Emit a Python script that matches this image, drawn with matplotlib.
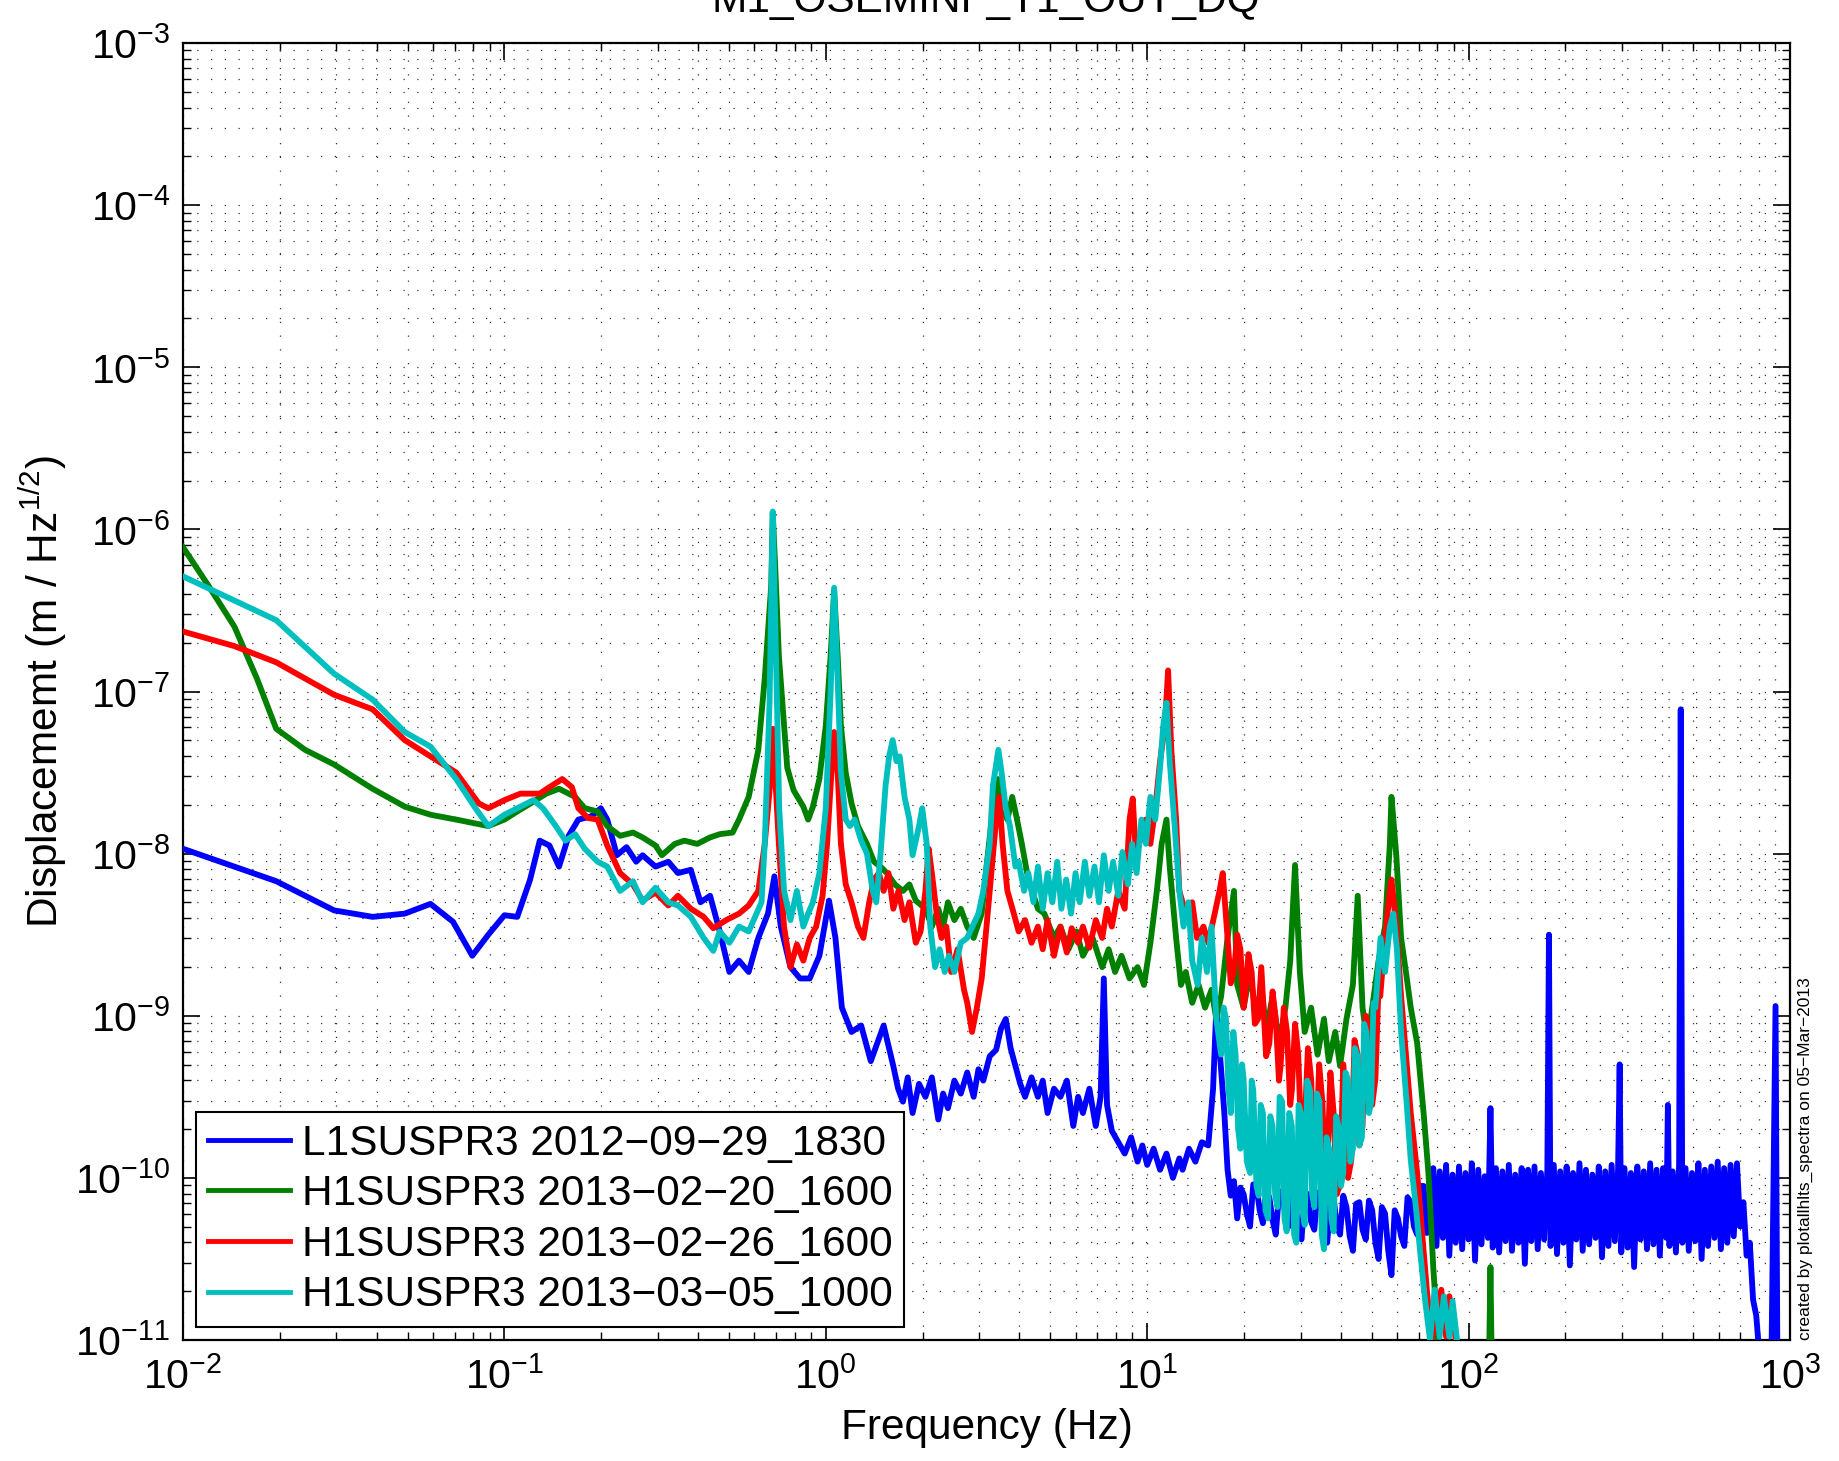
import numpy as np
import matplotlib
matplotlib.use('Agg')
import matplotlib.pyplot as plt

plt.rcParams['font.family'] = ['Liberation Sans', 'DejaVu Sans']
plt.rcParams['mathtext.fontset'] = 'custom'
plt.rcParams['mathtext.rm'] = 'Liberation Sans'
plt.rcParams['mathtext.it'] = 'Liberation Sans:italic'
plt.rcParams['mathtext.bf'] = 'Liberation Sans:bold'
plt.rcParams['mathtext.default'] = 'regular'

title = 'M1_OSEMINF_T1_OUT_DQ'
xlabel = 'Frequency (Hz)'
ylabel = 'Displacememt (m / Hz$^{1/2}$)'
footnote = 'created by plotallhlts_spectra on 05\u2212Mar\u22122013'
series_labels = ['L1SUSPR3 2012\u221209\u221229_1830',
                 'H1SUSPR3 2013\u221202\u221220_1600',
                 'H1SUSPR3 2013\u221202\u221226_1600',
                 'H1SUSPR3 2013\u221203\u221205_1000']
series_colors = ['#0000ff', '#008000', '#ff0000', '#00bfbf']
x_tick_exps = [-2, -1, 0, 1, 2, 3]
y_tick_exps = [-11, -10, -9, -8, -7, -6, -5, -4, -3]

# (log10 frequency [Hz], log10 amplitude [m/rtHz])
l1_log = [
    (-2.00,-7.97),(-1.71,-8.17),(-1.53,-8.35),(-1.41,-8.39),(-1.31,-8.37),(-1.23,-8.31),(-1.16,-8.42),
    (-1.10,-8.63),(-1.05,-8.50),(-1.00,-8.38),(-0.96,-8.39),(-0.92,-8.16),(-0.89,-7.92),(-0.86,-7.95),
    (-0.83,-8.08),(-0.80,-7.89),(-0.77,-7.79),(-0.73,-7.77),(-0.70,-7.72),(-0.68,-7.79),(-0.65,-8.01),
    (-0.62,-7.96),(-0.59,-8.05),(-0.57,-8.01),(-0.53,-8.08),(-0.49,-8.05),(-0.46,-8.12),(-0.42,-8.10),
    (-0.39,-8.30),(-0.36,-8.26),(-0.33,-8.48),(-0.30,-8.73),(-0.27,-8.66),(-0.24,-8.73),(-0.21,-8.52),
    (-0.18,-8.37),(-0.16,-8.14),(-0.14,-8.45),(-0.11,-8.70),(-0.08,-8.77),(-0.05,-8.77),(-0.02,-8.63),
    (0.01,-8.29),(0.03,-8.52),(0.05,-8.95),(0.08,-9.10),(0.11,-9.06),(0.14,-9.28),(0.16,-9.17),
    (0.18,-9.06),(0.21,-9.31),(0.225,-9.45),(0.24,-9.53),(0.255,-9.38),(0.27,-9.60),(0.29,-9.42),
    (0.31,-9.50),(0.33,-9.38),(0.35,-9.64),(0.365,-9.48),(0.38,-9.57),(0.40,-9.40),(0.42,-9.48),
    (0.44,-9.35),(0.46,-9.50),(0.475,-9.33),(0.49,-9.40),(0.51,-9.25),(0.53,-9.21),(0.545,-9.08),
    (0.56,-9.02),(0.575,-9.20),(0.59,-9.31),(0.605,-9.42),(0.62,-9.50),(0.64,-9.38),(0.66,-9.50),
    (0.675,-9.40),(0.69,-9.60),(0.71,-9.45),(0.73,-9.50),(0.75,-9.40),(0.77,-9.68),(0.785,-9.50),
    (0.80,-9.60),(0.82,-9.45),(0.84,-9.68),(0.855,-9.50),(0.865,-8.77),(0.875,-9.55),(0.89,-9.71),
    (0.91,-9.78),(0.93,-9.85),(0.95,-9.75),(0.97,-9.90),(0.985,-9.80),(1.00,-9.92),(1.02,-9.82),
    (1.04,-9.95),(1.06,-9.85),(1.08,-10.00),(1.10,-9.88),(1.11,-9.95),(1.13,-9.82),(1.15,-9.90),
    (1.17,-9.78),(1.19,-9.80),(1.205,-9.45),(1.215,-8.95),(1.225,-9.20),(1.24,-9.60),(1.25,-9.95),
    (1.26,-10.11),(1.27,-10.02),(1.28,-10.25),(1.29,-10.06),(1.30,-10.10),(1.31,-10.22),(1.32,-10.30),
    (1.33,-10.04),(1.34,-10.05),(1.35,-10.20),(1.36,-10.28),(1.37,-10.08),(1.38,-10.12),(1.39,-10.26),
    (1.40,-10.35),(1.41,-10.10),(1.42,-10.08),(1.43,-10.24),(1.44,-10.30),(1.45,-10.06),(1.46,-10.15),
    (1.47,-10.30),(1.48,-10.38),(1.49,-10.12),(1.50,-10.10),(1.51,-10.27),(1.52,-10.32),(1.53,-10.09),
    (1.54,-10.14),(1.55,-10.33),(1.56,-10.40),(1.57,-10.15),(1.58,-10.12),(1.59,-10.30),(1.60,-10.35),
    (1.61,-10.11),(1.62,-10.18),(1.63,-10.36),(1.64,-10.45),(1.65,-10.16),(1.66,-10.15),(1.67,-10.32),
    (1.68,-10.38),(1.69,-10.14),(1.70,-10.20),(1.71,-10.40),(1.72,-10.50),(1.73,-10.18),(1.74,-10.22),
    (1.75,-10.45),(1.76,-10.60),(1.77,-10.20),(1.78,-10.25),(1.79,-10.36),(1.80,-10.42),(1.81,-10.12),
    (1.82,-10.15),(1.83,-10.30),(1.84,-10.35),(1.85,-10.05),(1.86,-10.05),(1.87,-10.34),(1.88,-10.30),
    (1.89,-9.94),(1.90,-10.42),(1.91,-9.96),(1.92,-10.37),(1.93,-9.92),(1.94,-10.48),(1.95,-9.98),
    (1.96,-10.40),(1.97,-9.93),(1.98,-10.44),(1.99,-9.97),(2.00,-10.38),(2.01,-9.91),(2.02,-10.51),
    (2.03,-9.95),(2.04,-10.41),(2.05,-9.99),(2.06,-10.37),(2.068,-9.57),(2.075,-10.43),(2.085,-9.94),
    (2.095,-10.46),(2.105,-9.96),(2.115,-10.39),(2.125,-9.92),(2.135,-10.45),(2.145,-9.98),(2.155,-10.40),
    (2.165,-9.94),(2.175,-10.53),(2.185,-9.95),(2.195,-10.39),(2.205,-9.93),(2.215,-10.44),(2.225,-9.97),
    (2.235,-10.38),(2.245,-9.95),(2.25,-8.50),(2.255,-10.42),(2.265,-9.92),(2.275,-10.47),(2.285,-9.96),
    (2.295,-10.40),(2.305,-9.93),(2.315,-10.54),(2.325,-9.97),(2.335,-10.38),(2.345,-9.91),(2.355,-10.45),
    (2.365,-9.95),(2.375,-10.41),(2.385,-9.98),(2.395,-10.37),(2.405,-9.93),(2.415,-10.49),(2.425,-9.96),
    (2.435,-10.42),(2.445,-9.92),(2.455,-10.39),(2.465,-9.95),(2.47,-9.30),(2.475,-10.46),(2.485,-9.94),
    (2.495,-10.43),(2.505,-9.97),(2.515,-10.55),(2.525,-9.93),(2.535,-10.38),(2.545,-9.96),(2.555,-10.44),
    (2.565,-9.91),(2.575,-10.41),(2.585,-9.95),(2.595,-10.48),(2.605,-9.94),(2.615,-10.37),(2.62,-9.55),
    (2.625,-10.42),(2.635,-9.96),(2.645,-10.46),(2.655,-9.92),(2.66,-7.11),(2.665,-10.40),(2.675,-9.94),
    (2.685,-10.45),(2.695,-9.97),(2.705,-10.39),(2.715,-9.91),(2.725,-10.50),(2.735,-9.95),(2.745,-10.42),
    (2.755,-9.93),(2.765,-10.37),(2.775,-9.90),(2.785,-10.44),(2.795,-9.94),(2.805,-10.40),(2.815,-9.92),
    (2.825,-10.36),(2.835,-9.91),(2.845,-10.30),(2.855,-10.15),(2.865,-10.48),(2.875,-10.40),(2.885,-10.75),
    (2.895,-10.85),(2.905,-11.10),(2.92,-11.30),(2.94,-11.50),(2.955,-8.94),(2.962,-11.60),
]

h1_0220_log = [
    (-2.00,-6.11),(-1.92,-6.35),(-1.84,-6.60),(-1.77,-6.92),(-1.71,-7.23),(-1.62,-7.36),(-1.53,-7.45),
    (-1.41,-7.60),(-1.31,-7.71),(-1.23,-7.76),(-1.15,-7.79),(-1.05,-7.83),(-1.00,-7.79),(-0.96,-7.74),
    (-0.91,-7.68),(-0.87,-7.63),(-0.83,-7.60),(-0.78,-7.65),(-0.75,-7.72),(-0.71,-7.74),(-0.68,-7.83),
    (-0.64,-7.89),(-0.60,-7.87),(-0.57,-7.90),(-0.53,-7.95),(-0.51,-8.01),(-0.47,-7.94),(-0.44,-7.92),
    (-0.40,-7.94),(-0.36,-7.90),(-0.33,-7.88),(-0.29,-7.87),(-0.27,-7.79),(-0.24,-7.65),(-0.21,-7.36),
    (-0.19,-6.92),(-0.17,-6.35),(-0.165,-5.90),(-0.158,-6.20),(-0.146,-6.78),(-0.13,-7.21),(-0.12,-7.47),
    (-0.10,-7.61),(-0.07,-7.71),(-0.055,-7.79),(-0.04,-7.71),(-0.02,-7.54),(0.00,-7.21),(0.015,-6.78),
    (0.026,-6.38),(0.037,-6.78),(0.047,-7.21),(0.062,-7.50),(0.08,-7.69),(0.10,-7.83),(0.128,-7.94),
    (0.15,-8.05),(0.17,-8.08),(0.19,-8.12),(0.215,-8.19),(0.24,-8.23),(0.26,-8.19),(0.28,-8.29),
    (0.31,-8.34),(0.33,-8.45),(0.35,-8.34),(0.365,-8.45),(0.38,-8.30),(0.40,-8.41),(0.42,-8.34),
    (0.44,-8.45),(0.46,-8.52),(0.485,-8.37),(0.50,-8.08),(0.52,-7.72),(0.535,-7.54),(0.55,-7.72),
    (0.565,-7.79),(0.58,-7.65),(0.595,-7.79),(0.61,-7.94),(0.63,-8.16),(0.66,-8.34),(0.68,-8.37),
    (0.71,-8.52),(0.73,-8.45),(0.755,-8.59),(0.78,-8.48),(0.80,-8.63),(0.83,-8.52),(0.86,-8.70),
    (0.88,-8.59),(0.90,-8.73),(0.92,-8.63),(0.945,-8.77),(0.97,-8.70),(0.99,-8.81),(1.01,-8.55),
    (1.03,-8.23),(1.045,-7.94),(1.06,-7.79),(1.07,-8.08),(1.09,-8.52),(1.105,-8.81),(1.12,-8.73),
    (1.14,-8.92),(1.16,-8.81),(1.18,-8.95),(1.20,-8.84),(1.215,-9.02),(1.23,-8.88),(1.25,-8.52),
    (1.27,-8.23),(1.28,-8.81),(1.30,-8.95),(1.32,-8.73),(1.34,-9.02),(1.355,-8.81),(1.37,-9.10),
    (1.39,-8.88),(1.41,-9.17),(1.43,-8.95),(1.445,-8.66),(1.46,-8.07),(1.475,-8.73),(1.49,-9.10),
    (1.51,-8.95),(1.53,-9.24),(1.55,-9.02),(1.565,-9.28),(1.585,-9.10),(1.60,-9.31),(1.62,-9.02),
    (1.64,-8.81),(1.655,-8.26),(1.67,-8.95),(1.685,-9.17),(1.705,-8.88),(1.72,-8.66),(1.74,-8.45),
    (1.755,-7.94),(1.76,-7.65),(1.775,-8.01),(1.79,-8.52),(1.805,-8.73),(1.82,-8.95),(1.84,-9.17),
    (1.86,-9.60),(1.875,-9.97),(1.89,-10.55),(1.905,-11.00),(1.92,-11.40),(1.95,-11.60),(2.06,-11.60),
    (2.068,-10.55),(2.075,-11.60),
]

h1_0226_log = [
    (-2.00,-6.63),(-1.84,-6.72),(-1.71,-6.82),(-1.62,-6.92),(-1.53,-7.02),(-1.41,-7.11),(-1.31,-7.30),
    (-1.23,-7.40),(-1.15,-7.50),(-1.08,-7.69),(-1.05,-7.72),(-1.00,-7.67),(-0.95,-7.63),(-0.89,-7.63),
    (-0.86,-7.59),(-0.82,-7.54),(-0.79,-7.59),(-0.77,-7.72),(-0.74,-7.78),(-0.71,-7.79),(-0.68,-7.95),
    (-0.64,-8.12),(-0.60,-8.19),(-0.57,-8.29),(-0.53,-8.24),(-0.49,-8.32),(-0.46,-8.26),(-0.42,-8.34),
    (-0.38,-8.39),(-0.35,-8.46),(-0.31,-8.41),(-0.27,-8.37),(-0.24,-8.32),(-0.21,-8.23),(-0.19,-7.94),
    (-0.17,-7.50),(-0.165,-7.23),(-0.16,-7.43),(-0.146,-7.94),(-0.13,-8.45),(-0.11,-8.70),(-0.09,-8.56),
    (-0.07,-8.66),(-0.05,-8.52),(-0.03,-8.45),(-0.01,-8.26),(0.004,-7.94),(0.015,-7.58),(0.026,-7.25),
    (0.037,-7.50),(0.047,-7.94),(0.062,-8.19),(0.08,-8.30),(0.10,-8.45),(0.117,-8.52),(0.135,-8.30),
    (0.15,-8.16),(0.165,-8.12),(0.18,-8.23),(0.195,-8.12),(0.21,-8.34),(0.226,-8.23),(0.245,-8.41),
    (0.26,-8.30),(0.28,-8.55),(0.295,-8.48),(0.31,-8.23),(0.32,-7.97),(0.33,-8.12),(0.345,-8.37),
    (0.36,-8.52),(0.375,-8.45),(0.39,-8.73),(0.41,-8.59),(0.43,-8.84),(0.44,-8.92),(0.455,-9.10),
    (0.47,-8.95),(0.485,-8.77),(0.50,-8.45),(0.515,-8.12),(0.53,-7.79),(0.54,-7.65),(0.55,-7.94),
    (0.565,-8.23),(0.585,-8.37),(0.60,-8.48),(0.62,-8.41),(0.64,-8.55),(0.66,-8.45),(0.675,-8.59),
    (0.69,-8.41),(0.71,-8.63),(0.73,-8.45),(0.75,-8.61),(0.765,-8.46),(0.785,-8.55),(0.80,-8.45),
    (0.82,-8.58),(0.84,-8.41),(0.86,-8.52),(0.875,-8.34),(0.89,-8.45),(0.91,-8.23),(0.93,-8.34),
    (0.945,-7.79),(0.955,-7.66),(0.965,-8.01),(0.98,-7.90),(0.995,-7.79),(1.01,-7.94),(1.025,-7.72),
    (1.04,-7.43),(1.055,-7.21),(1.065,-6.87),(1.075,-7.36),(1.09,-7.79),(1.10,-8.23),(1.12,-8.37),
    (1.14,-8.30),(1.155,-8.52),(1.175,-8.45),(1.19,-8.55),(1.21,-8.37),(1.225,-8.23),(1.235,-8.12),
    (1.25,-8.52),(1.26,-8.80),(1.27,-8.73),(1.28,-8.50),(1.29,-8.59),(1.30,-8.95),(1.305,-8.88),
    (1.315,-8.62),(1.325,-8.73),(1.335,-9.05),(1.345,-9.02),(1.355,-8.70),(1.36,-8.88),(1.37,-9.25),
    (1.38,-9.17),(1.39,-8.85),(1.40,-9.02),(1.41,-9.40),(1.415,-9.31),(1.425,-8.95),(1.435,-9.10),
    (1.445,-9.55),(1.45,-9.46),(1.46,-9.05),(1.47,-9.24),(1.48,-9.80),(1.49,-9.68),(1.50,-9.20),
    (1.51,-9.39),(1.52,-9.95),(1.525,-9.86),(1.535,-9.30),(1.545,-9.53),(1.555,-10.05),(1.56,-9.97),
    (1.57,-9.35),(1.58,-9.60),(1.59,-10.10),(1.60,-10.04),(1.61,-9.30),(1.615,-9.46),(1.625,-10.00),
    (1.635,-9.89),(1.645,-9.15),(1.655,-9.24),(1.66,-9.80),(1.67,-9.68),(1.68,-9.00),(1.69,-9.10),
    (1.70,-9.55),(1.71,-9.39),(1.72,-8.80),(1.725,-8.88),(1.74,-8.52),(1.755,-8.23),(1.76,-8.16),
    (1.775,-8.45),(1.79,-8.88),(1.805,-9.24),(1.82,-9.60),(1.84,-9.97),(1.855,-10.33),(1.87,-10.69),
    (1.885,-11.00),(1.90,-10.83),(1.915,-10.69),(1.93,-10.98),(1.94,-10.73),(1.955,-10.91),(1.965,-11.10),
]

h1_0305_log = [
    (-2.00,-6.29),(-1.71,-6.56),(-1.53,-6.89),(-1.41,-7.05),(-1.31,-7.25),(-1.23,-7.34),(-1.15,-7.54),
    (-1.09,-7.72),(-1.05,-7.83),(-1.00,-7.76),(-0.95,-7.71),(-0.91,-7.67),(-0.88,-7.72),(-0.84,-7.83),
    (-0.81,-7.92),(-0.78,-7.88),(-0.75,-7.97),(-0.71,-8.05),(-0.68,-8.08),(-0.64,-8.23),(-0.60,-8.17),
    (-0.57,-8.30),(-0.53,-8.21),(-0.49,-8.30),(-0.46,-8.32),(-0.42,-8.39),(-0.38,-8.52),(-0.35,-8.60),
    (-0.33,-8.48),(-0.30,-8.55),(-0.27,-8.45),(-0.24,-8.48),(-0.22,-8.39),(-0.20,-8.30),(-0.19,-7.94),
    (-0.175,-7.07),(-0.165,-5.89),(-0.155,-6.78),(-0.145,-7.72),(-0.13,-8.23),(-0.11,-8.41),(-0.09,-8.23),
    (-0.07,-8.45),(-0.055,-8.37),(-0.04,-8.30),(-0.02,-8.12),(0.00,-7.72),(0.015,-7.00),(0.026,-6.36),
    (0.037,-6.93),(0.047,-7.50),(0.062,-7.79),(0.075,-7.83),(0.09,-7.79),(0.11,-7.92),(0.128,-8.00),
    (0.146,-8.23),(0.157,-8.30),(0.17,-8.01),(0.186,-7.58),(0.197,-7.40),(0.208,-7.30),(0.22,-7.43),
    (0.23,-7.40),(0.245,-7.65),(0.26,-7.79),(0.27,-8.01),(0.29,-7.83),(0.30,-7.72),(0.314,-7.94),
    (0.325,-8.45),(0.34,-8.70),(0.354,-8.59),(0.37,-8.73),(0.383,-8.63),(0.40,-8.73),(0.42,-8.55),
    (0.44,-8.52),(0.456,-8.45),(0.475,-8.37),(0.49,-8.23),(0.51,-7.94),(0.52,-7.58),(0.537,-7.36),
    (0.547,-7.50),(0.56,-7.72),(0.573,-7.83),(0.59,-8.08),(0.60,-8.05),(0.617,-8.23),(0.63,-8.12),
    (0.646,-8.30),(0.66,-8.08),(0.675,-8.34),(0.69,-8.12),(0.705,-8.30),(0.72,-8.05),(0.733,-8.34),
    (0.748,-8.16),(0.763,-8.37),(0.777,-8.12),(0.79,-8.30),(0.806,-8.05),(0.82,-8.26),(0.836,-8.08),
    (0.85,-8.30),(0.865,-8.01),(0.88,-8.23),(0.894,-8.05),(0.91,-8.26),(0.923,-7.99),(0.94,-8.19),
    (0.953,-7.94),(0.967,-8.12),(0.982,-7.79),(0.996,-7.94),(1.01,-7.65),(1.025,-7.79),(1.04,-7.47),
    (1.05,-7.21),(1.06,-7.07),(1.07,-7.43),(1.084,-7.79),(1.10,-8.23),(1.113,-8.45),(1.128,-8.30),
    (1.14,-8.66),(1.157,-8.81),(1.17,-8.52),(1.186,-8.73),(1.20,-8.45),(1.215,-9.02),(1.23,-9.24),
    (1.238,-8.95),(1.245,-9.02),(1.253,-9.45),(1.26,-9.60),(1.268,-9.10),(1.275,-9.24),(1.283,-9.70),
    (1.29,-9.82),(1.295,-9.30),(1.30,-9.39),(1.31,-9.90),(1.32,-9.97),(1.325,-9.40),(1.33,-9.46),
    (1.34,-10.05),(1.347,-10.11),(1.353,-9.55),(1.36,-9.60),(1.368,-10.20),(1.376,-10.25),(1.383,-9.62),
    (1.39,-9.68),(1.398,-10.10),(1.405,-10.18),(1.412,-9.50),(1.42,-9.53),(1.427,-10.25),(1.434,-10.33),
    (1.442,-9.60),(1.45,-9.68),(1.457,-10.35),(1.464,-10.40),(1.471,-9.55),(1.478,-9.60),(1.484,-10.20),
    (1.49,-10.29),(1.498,-9.40),(1.507,-9.46),(1.513,-10.10),(1.52,-10.18),(1.528,-9.48),(1.536,-9.53),
    (1.543,-10.35),(1.55,-10.44),(1.558,-9.75),(1.566,-9.82),(1.573,-10.25),(1.58,-10.33),(1.588,-9.62),
    (1.595,-9.68),(1.603,-10.05),(1.61,-9.97),(1.617,-9.35),(1.624,-9.39),(1.632,-9.90),(1.64,-9.82),
    (1.646,-9.20),(1.653,-9.24),(1.66,-9.80),(1.668,-9.75),(1.675,-9.05),(1.682,-9.10),(1.69,-9.60),
    (1.697,-9.53),(1.704,-8.92),(1.71,-8.95),(1.726,-8.52),(1.74,-8.73),(1.755,-8.45),(1.766,-8.37),
    (1.777,-8.59),(1.79,-9.10),(1.807,-9.53),(1.82,-9.89),(1.836,-10.18),(1.85,-10.47),(1.865,-10.76),
    (1.88,-11.00),(1.894,-10.69),(1.91,-10.98),(1.923,-10.73),(1.94,-10.98),(1.95,-10.76),(1.967,-11.05),
]

all_series = [l1_log, h1_0220_log, h1_0226_log, h1_0305_log]

fig = plt.figure(figsize=(18.39, 14.61), dpi=100)
ax = fig.add_axes([183/1839, 1 - 1340/1461, (1790-183)/1839, (1340-43)/1461])

for data, color, lab in zip(all_series, series_colors, series_labels):
    arr = np.array(data)
    ax.plot(10**arr[:, 0], 10**arr[:, 1], color=color, lw=4.2, label=lab,
            solid_joinstyle='round', zorder=3)

ax.set_xscale('log')
ax.set_yscale('log')
ax.set_xlim(1e-2, 1e3)
ax.set_ylim(1e-11, 1e-3)
ax.set_xticks([10.0**e for e in x_tick_exps])
ax.set_xticklabels(['$10^{%d}$' % e for e in x_tick_exps])
ax.set_yticks([10.0**e for e in y_tick_exps])
ax.set_yticklabels(['$10^{%d}$' % e for e in y_tick_exps])

ax.tick_params(which='both', direction='in', top=True, right=True, labelsize=29.5)
ax.tick_params(axis='x', which='major', pad=12)
ax.tick_params(axis='y', which='major', pad=9)
ax.tick_params(which='major', length=12, width=1.2)
ax.tick_params(which='minor', length=6, width=1.0)
for sp in ax.spines.values():
    sp.set_linewidth(1.6)

ax.grid(True, which='major', linestyle=(0, (1, 10)), color='0.2', lw=0.9)
ax.grid(True, which='minor', linestyle=(0, (1, 10)), color='0.2', lw=0.9)
ax.set_axisbelow(True)

ax.set_xlabel(xlabel, fontsize=30.5, labelpad=8)
ax.set_ylabel(ylabel, fontsize=30.5, labelpad=4)

leg = ax.legend(loc='lower left', fontsize=30.5, frameon=True, fancybox=False,
                edgecolor='black', framealpha=1, borderaxespad=0.3,
                handlelength=1.95, handletextpad=0.27, labelspacing=0.25, borderpad=0.28)
leg.get_frame().set_linewidth(1.5)
for lh in leg.get_lines():
    lh.set_linewidth(3.5)

fig.text(986/1839, 1 - 12/1461, title, ha='center', va='baseline', fontsize=30.5)
fig.text(1805/1839, (1461-1340)/1461, footnote, rotation=90, ha='center', va='bottom', fontsize=12.5)

fig.savefig('out.png', dpi=100)
